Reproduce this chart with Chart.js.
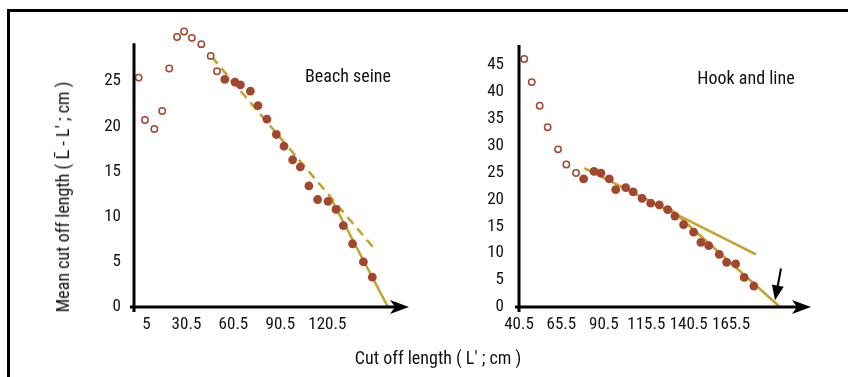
<!DOCTYPE html>
<html>
<head>
<meta charset="utf-8">
<script src="https://cdn.jsdelivr.net/npm/chart.js@4.4.1/dist/chart.umd.min.js"></script>
<style>
  html, body { margin: 0; padding: 0; background: #fff; }
  body {
    width: 848px; height: 377px; position: relative; overflow: hidden;
    font-family: 'Roboto Condensed', 'Liberation Sans Narrow', sans-serif;
    color: #111;
  }
  #frame {
    position: absolute; left: 7px; top: 9px; width: 900px; height: 420px;
    border-top: 3px solid #000; border-left: 3px solid #000;
  }
  canvas { position: absolute; top: 0; }
  .txt { position: absolute; white-space: nowrap; font-size: 18px; transform: translate(-50%, -50%); }
  #ytitle { transform: translate(-50%, -50%) rotate(-90deg); }
</style>
</head>
<body>
<div id="frame"></div>
<canvas id="seineChart" width="424" height="377" style="left:0"></canvas>
<canvas id="hookChart" width="424" height="377" style="left:424px"></canvas>
<div class="txt" style="left:348px;top:75px">Beach seine</div>
<div class="txt" style="left:746px;top:77px">Hook and line</div>
<div class="txt" id="ytitle" style="left:63px;top:197px">Mean cut off length ( L&#772; - L' ; cm )</div>
<div class="txt" style="left:438px;top:357px">Cut off length ( L' ; cm )</div>

<script>
// Beach seine panel
const seineOpenX = [0, 4, 10, 15, 19.5, 24.5, 29, 34, 40, 46, 50];
const seineOpenY = [25.4, 20.7, 19.7, 21.7, 26.4, 29.9, 30.5, 29.8, 29.1, 27.8, 26.1];
const seineFillX = [55, 61.5, 65, 71.3, 76.2, 81.9, 87.9, 92.8, 98.3, 103.2, 108.7, 114.3, 120.9, 126, 130.7, 136.6, 143.5, 149.2];
const seineFillY = [25.2, 24.9, 24.6, 23.9, 22.3, 20.8, 19.1, 17.8, 16.3, 15.5, 13.4, 11.9, 11.7, 10.8, 9.0, 7.0, 5.0, 3.3];
const seineDashX = [46.6, 149.8];
const seineDashY = [27.7, 6.6];
const seineSolidX = [123.3, 159.2];
const seineSolidY = [11.85, 0];
const seineXTicks = [5, 30.5, 60.5, 90.5, 120.5];
const seineYTicks = [0, 5, 10, 15, 20, 25];

// Hook and line panel
const hookOpenX = [43.6, 48, 52.7, 57.4, 63.5, 68.4, 74.1];
const hookOpenY = [46.1, 41.8, 37.4, 33.4, 29.3, 26.5, 24.9];
const hookFillX = [78.6, 84.7, 88.8, 93.7, 97.5, 103.4, 107.8, 113, 118.1, 123.2, 128.1, 132.4, 137.5, 143.4, 147.7, 152.3, 158.5, 162.9, 168.2, 173.2, 178.9];
const hookFillY = [23.8, 25.2, 24.9, 23.8, 21.8, 22.2, 21.4, 20.2, 19.3, 19.0, 18.1, 16.9, 15.3, 13.9, 12.0, 11.4, 9.8, 8.3, 8.0, 5.5, 3.9];
const hookUpperX = [79, 180.1];
const hookUpperY = [25.8, 9.8];
const hookSteepX = [129.5, 194.3];
const hookSteepY = [18.3, 0];
const hookArrowX = [194.9, 191.4];
const hookArrowY = [7.15, 1.25];
const hookXTicks = [40.5, 65.5, 90.5, 115.5, 140.5, 165.5];
const hookYTicks = [0, 5, 10, 15, 20, 25, 30, 35, 40, 45];

const BROWN = '#a2472f';
const GOLD = '#c6a12a';

Chart.defaults.font.family = "'Roboto Condensed', 'Liberation Sans Narrow', sans-serif";
Chart.defaults.font.size = 17;
Chart.defaults.color = '#111';

const pts = (xs, ys) => xs.map((x, i) => ({ x: x, y: ys[i] }));

// black axes with arrow on the x axis
const axisArrows = {
  id: 'axisArrows',
  afterDraw(chart, args, opts) {
    const { ctx, chartArea: a, scales } = chart;
    const yTop = scales.y.getPixelForValue(opts.yTop);
    ctx.save();
    ctx.strokeStyle = '#000';
    ctx.fillStyle = '#000';
    ctx.lineWidth = 3;
    ctx.beginPath();
    ctx.moveTo(a.left, yTop);
    ctx.lineTo(a.left, a.bottom + 5);
    ctx.moveTo(a.left - 4, a.bottom);
    ctx.lineTo(a.right - 12, a.bottom);
    ctx.stroke();
    ctx.beginPath();
    ctx.moveTo(a.right + 1, a.bottom);
    ctx.lineTo(a.right - 18, a.bottom - 7);
    ctx.lineTo(a.right - 13, a.bottom);
    ctx.lineTo(a.right - 18, a.bottom + 7);
    ctx.closePath();
    ctx.fill();

    if (opts.pointer) {
      const x = scales.x, y = scales.y;
      const x0 = x.getPixelForValue(hookArrowX[0]), y0 = y.getPixelForValue(hookArrowY[0]);
      const x1 = x.getPixelForValue(hookArrowX[1]), y1 = y.getPixelForValue(hookArrowY[1]);
      const ang = Math.atan2(y1 - y0, x1 - x0);
      ctx.lineWidth = 2;
      ctx.beginPath();
      ctx.moveTo(x0, y0);
      ctx.lineTo(x1 - 10 * Math.cos(ang), y1 - 10 * Math.sin(ang));
      ctx.stroke();
      ctx.beginPath();
      ctx.moveTo(x1, y1);
      ctx.lineTo(x1 - 15 * Math.cos(ang) + 6 * Math.sin(ang), y1 - 15 * Math.sin(ang) - 6 * Math.cos(ang));
      ctx.lineTo(x1 - 15 * Math.cos(ang) - 6 * Math.sin(ang), y1 - 15 * Math.sin(ang) + 6 * Math.cos(ang));
      ctx.closePath();
      ctx.fill();
    }
    ctx.restore();
  }
};

function openSet(xs, ys) {
  return {
    data: pts(xs, ys), pointStyle: 'circle', pointRadius: 3.2,
    pointBackgroundColor: '#fff', pointBorderColor: BROWN, pointBorderWidth: 1.5
  };
}

function fillSet(xs, ys) {
  return {
    data: pts(xs, ys), pointStyle: 'circle', pointRadius: 4.4,
    pointBackgroundColor: BROWN, pointBorderColor: BROWN, pointBorderWidth: 0
  };
}

function lineSet(xs, ys, dash) {
  return {
    type: 'line', data: pts(xs, ys), showLine: true, pointRadius: 0,
    borderColor: GOLD, borderWidth: 2.5, borderDash: dash || [], fill: false
  };
}

function makeChart(id, p) {
  return new Chart(document.getElementById(id), {
    type: 'scatter',
    data: { datasets: p.datasets },
    options: {
      responsive: false,
      animation: false,
      devicePixelRatio: 1,
      layout: { padding: p.padding },
      plugins: {
        legend: { display: false },
        tooltip: { enabled: false },
        axisArrows: { yTop: p.yTop, pointer: p.pointer }
      },
      scales: {
        x: {
          type: 'linear', min: p.xMin, max: p.xMax,
          grid: { display: false, drawTicks: false },
          border: { display: false },
          ticks: { padding: 8, autoSkip: false, maxRotation: 0, callback: v => String(v) },
          afterBuildTicks: s => { s.ticks = p.xTicks.map(v => ({ value: v })); },
          afterFit: s => { s.height = 70; }
        },
        y: {
          type: 'linear', min: 0, max: p.yMax,
          grid: { display: false, drawTicks: false },
          border: { display: false },
          ticks: { padding: p.yPad, callback: v => String(v) },
          afterBuildTicks: s => { s.ticks = p.yTicks.map(v => ({ value: v })); },
          afterFit: s => { s.width = 44; }
        }
      }
    },
    plugins: [axisArrows]
  });
}

makeChart('seineChart', {
  datasets: [
    fillSet(seineFillX, seineFillY),
    openSet(seineOpenX, seineOpenY),
    lineSet(seineDashX, seineDashY, [9, 6]),
    lineSet(seineSolidX, seineSolidY)
  ],
  padding: { left: 90, right: 16, top: 27, bottom: 0 },
  xMin: -3, xMax: 172, yMax: 31, yTop: 29.2, yPad: 13,
  xTicks: seineXTicks, yTicks: seineYTicks, pointer: false
});

makeChart('hookChart', {
  datasets: [
    fillSet(hookFillX, hookFillY),
    openSet(hookOpenX, hookOpenY),
    lineSet(hookUpperX, hookUpperY),
    lineSet(hookSteepX, hookSteepY)
  ],
  padding: { left: 51, right: 38, top: 38, bottom: 0 },
  xMin: 40.5, xMax: 212, yMax: 50, yTop: 48.7, yPad: 15,
  xTicks: hookXTicks, yTicks: hookYTicks, pointer: true
});
</script>
</body>
</html>
